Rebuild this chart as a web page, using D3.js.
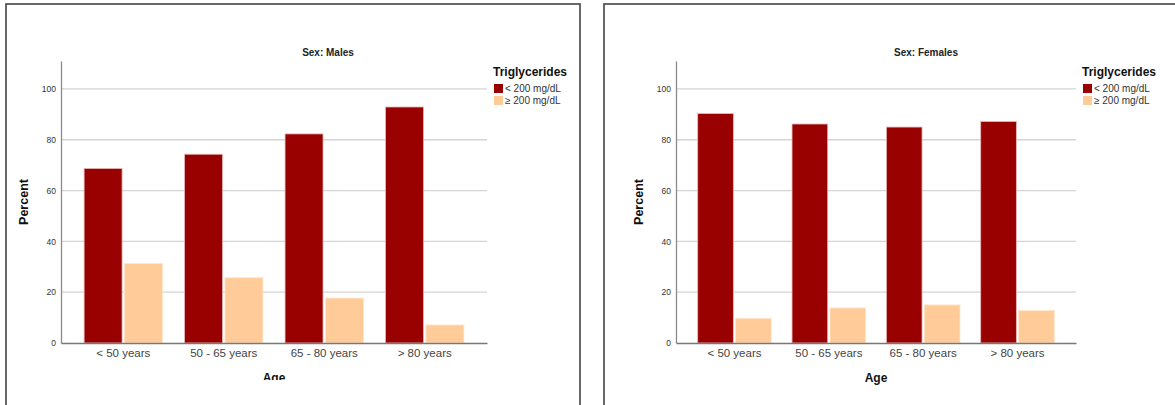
<!DOCTYPE html>
<html>
<head>
<meta charset="utf-8">
<script src="https://cdn.jsdelivr.net/npm/d3@7"></script>
<style>
  html, body { margin: 0; padding: 0; background: #fff; }
  svg { display: block; font-family: "Liberation Sans", Arial, sans-serif; }
</style>
</head>
<body>
<svg id="chart" width="1175" height="405"></svg>
<script>
// Age groups on the x axis
const ageGroups = ["< 50 years", "50 - 65 years", "65 - 80 years", "> 80 years"];
// Triglyceride categories (legend)
const trigLevels = ["< 200 mg/dL", "\u2265 200 mg/dL"];
const trigColors = ["#990000", "#ffcc99"];
// Percent of each age group, by triglyceride level
const malesLow = [68.7, 74.3, 82.3, 92.9];
const malesHigh = [31.3, 25.7, 17.7, 7.1];
const femalesLow = [90.3, 86.2, 85.0, 87.2];
const femalesHigh = [9.7, 13.8, 15.0, 12.8];
const yTicks = [0, 20, 40, 60, 80, 100];

const svg = d3.select("#chart");
const defs = svg.append("defs");

function drawPanel(cfg) {
  const g = svg.append("g");

  // panel frame
  g.append("rect")
    .attr("x", cfg.frame[0]).attr("y", 4)
    .attr("width", cfg.frame[1] - cfg.frame[0]).attr("height", 460)
    .attr("fill", "none").attr("stroke", "#444").attr("stroke-width", 1.6);

  const x0 = d3.scaleBand().domain(ageGroups)
    .range([cfg.left, cfg.right]).paddingInner(0.22).paddingOuter(0.23);
  const x1 = d3.scaleBand().domain(trigLevels)
    .range([0, x0.bandwidth()]).paddingInner(0.06);
  const y = d3.scaleLinear().domain([0, 111]).range([cfg.bottom, cfg.bottom - 282]);

  // gridlines
  g.append("g").selectAll("line").data(yTicks.filter(d => d > 0)).join("line")
    .attr("x1", cfg.left).attr("x2", cfg.right)
    .attr("y1", d => y(d)).attr("y2", d => y(d))
    .attr("stroke", "#d4d4d4").attr("stroke-width", 1.3);

  // y axis
  const yAxis = g.append("g").attr("transform", `translate(${cfg.left},0)`)
    .call(d3.axisLeft(y).tickValues(yTicks).tickSize(0).tickPadding(5));
  yAxis.select(".domain").attr("stroke", "#8a8a8a").attr("stroke-width", 1.3);
  yAxis.selectAll("text").attr("font-size", 8.5).attr("fill", "#333")
    .attr("font-family", "Liberation Sans, Arial, sans-serif");

  // bars
  const series = [cfg.low, cfg.high];
  const bars = [];
  ageGroups.forEach((a, i) => {
    trigLevels.forEach((t, j) => bars.push({ age: a, level: t, j, value: series[j][i] }));
  });
  g.append("g").selectAll("rect").data(bars).join("rect")
    .attr("x", d => x0(d.age) + x1(d.level))
    .attr("width", x1.bandwidth())
    .attr("y", d => y(d.value))
    .attr("height", d => y(0) - y(d.value))
    .attr("fill", d => trigColors[d.j])
    .attr("stroke", d => d.j === 0 ? "#e6b8b8" : "#ffe6cc")
    .attr("stroke-width", 0.8);

  // x axis
  const xAxis = g.append("g").attr("transform", `translate(0,${cfg.bottom})`)
    .call(d3.axisBottom(x0).tickSize(0).tickPadding(6));
  xAxis.select(".domain").attr("stroke", "#777").attr("stroke-width", 1.3);
  xAxis.selectAll("text").attr("font-size", 11.5).attr("fill", "#444")
    .attr("font-family", "Liberation Sans, Arial, sans-serif");

  // titles
  g.append("text").attr("x", cfg.titleX).attr("y", 56)
    .attr("text-anchor", "middle").attr("font-size", 10).attr("font-weight", "bold")
    .attr("fill", "#222").text(cfg.title);
  g.append("text")
    .attr("transform", `translate(${cfg.left - 33},${202}) rotate(-90)`)
    .attr("text-anchor", "middle").attr("font-size", 12.5).attr("font-weight", "bold")
    .attr("fill", "#111").text("Percent");
  const ageLabel = g.append("text").attr("x", (cfg.left + cfg.right) / 2).attr("y", 382)
    .attr("text-anchor", "middle").attr("font-size", 12).attr("font-weight", "bold")
    .attr("fill", "#111").text("Age");
  if (cfg.clipBottom) {
    // the plot area of this panel is cut off just above the bottom of the axis title
    const id = "clip-" + cfg.key;
    defs.append("clipPath").attr("id", id)
      .append("rect").attr("x", 0).attr("y", 0)
      .attr("width", 1175).attr("height", cfg.clipBottom);
    ageLabel.attr("clip-path", `url(#${id})`);
  }

  // legend
  const lg = g.append("g").attr("transform", `translate(${cfg.right + 6},0)`);
  lg.append("text").attr("x", 0).attr("y", 76)
    .attr("font-size", 12).attr("font-weight", "bold").attr("fill", "#111")
    .text("Triglycerides");
  trigLevels.forEach((t, j) => {
    lg.append("rect").attr("x", 1).attr("y", 84 + j * 12)
      .attr("width", 9).attr("height", 9).attr("fill", trigColors[j]);
    lg.append("text").attr("x", 12).attr("y", 92 + j * 12)
      .attr("font-size", 10).attr("fill", "#333").text(t);
  });
}

drawPanel({ key: "m", title: "Sex: Males", frame: [6, 580], left: 61, right: 487,
  bottom: 343, titleX: 328, low: malesLow, high: malesHigh, clipBottom: 380 });
drawPanel({ key: "f", title: "Sex: Females", frame: [604, 1240], left: 676, right: 1076,
  bottom: 343, titleX: 926, low: femalesLow, high: femalesHigh });
</script>
</body>
</html>
